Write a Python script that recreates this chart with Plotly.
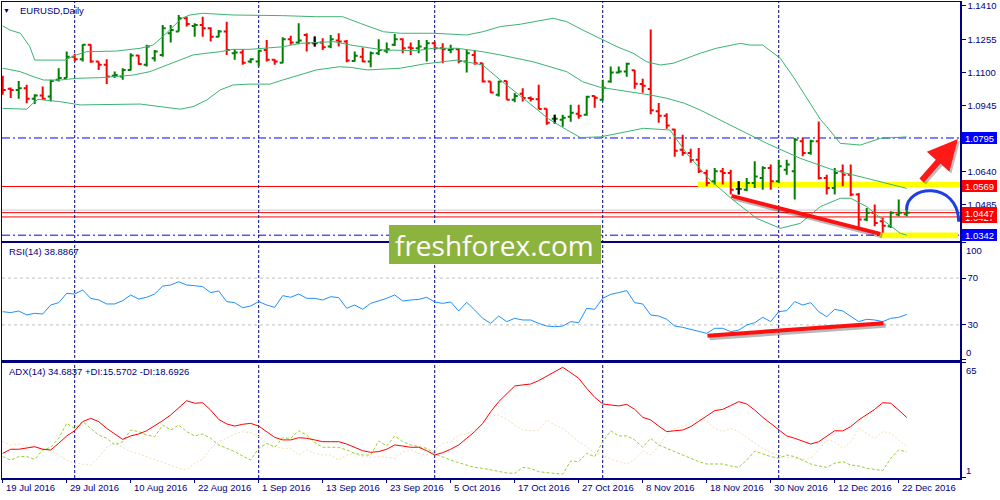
import plotly.graph_objects as go

# ---------------- data ----------------
date_labels = ["19 Jul 2016", "29 Jul 2016", "10 Aug 2016", "22 Aug 2016", "1 Sep 2016",
               "13 Sep 2016", "23 Sep 2016", "5 Oct 2016", "17 Oct 2016", "27 Oct 2016",
               "8 Nov 2016", "18 Nov 2016", "30 Nov 2016", "12 Dec 2016", "22 Dec 2016"]
date_label_bars = [0, 8, 16, 24, 32, 40, 48, 56, 64, 72, 80, 88, 96, 104, 112]
month_start_bars = [9, 32, 54, 75, 97]

opens = [1.1043,1.1024,1.1019,1.1027,1.0978,1.0993,1.0988,1.1066,1.1074,1.1174,
         1.1162,1.1229,1.1151,1.1136,1.1085,1.1081,1.1112,1.1179,1.1136,1.1167,
         1.1182,1.1283,1.1291,1.1353,1.1317,1.1322,1.1306,1.1267,1.1291,1.1190,
         1.1193,1.1151,1.1151,1.1205,1.1159,1.1146,1.1255,1.1240,1.1275,1.1236,
         1.1240,1.1221,1.1249,1.1244,1.1154,1.1174,1.1151,1.1190,1.1202,1.1229,
         1.1255,1.1216,1.1213,1.1213,1.1236,1.1213,1.1205,1.1209,1.1151,1.1182,
         1.1143,1.1058,1.0996,1.1061,1.0973,1.1001,1.0981,1.0976,1.0931,1.0885,
         1.0880,1.0894,1.0908,1.0903,1.0990,1.0973,1.1058,1.1100,1.1105,1.1110,
         1.1047,1.1023,1.0920,1.0898,1.0835,1.0740,1.0725,1.0694,1.0632,1.0593,
         1.0640,1.0632,1.0557,1.0554,1.0585,1.0609,1.0655,1.0593,1.0647,1.0640,
         1.0780,1.0725,1.0780,1.0609,1.0562,1.0640,1.0624,1.0531,1.0415,1.0446,
         1.0407,1.0384,1.0438,1.0440]
highs = [1.1085,1.1030,1.1061,1.1043,1.0999,1.1035,1.1066,1.1120,1.1198,1.1187,
         1.1232,1.1232,1.1151,1.1162,1.1105,1.1120,1.1190,1.1182,1.1229,1.1205,
         1.1322,1.1322,1.1368,1.1360,1.1329,1.1360,1.1311,1.1298,1.1337,1.1209,
         1.1209,1.1167,1.1205,1.1252,1.1162,1.1264,1.1271,1.1329,1.1283,1.1268,
         1.1260,1.1275,1.1283,1.1252,1.1198,1.1216,1.1198,1.1255,1.1240,1.1280,
         1.1260,1.1240,1.1252,1.1252,1.1244,1.1236,1.1229,1.1213,1.1205,1.1205,
         1.1143,1.1058,1.1062,1.1061,1.1004,1.1027,1.0988,1.1043,1.0931,1.0903,
         1.0903,1.0950,1.0950,1.0992,1.0992,1.1066,1.1128,1.1128,1.1145,1.1112,
         1.1071,1.1300,1.0958,1.0910,1.0838,1.0810,1.0745,1.0748,1.0647,1.0655,
         1.0655,1.0647,1.0593,1.0609,1.0686,1.0663,1.0671,1.0694,1.0694,1.0795,
         1.0795,1.0787,1.0872,1.0624,1.0655,1.0671,1.0671,1.0539,1.0469,1.0485,
         1.0423,1.0454,1.0508,1.0477]
lows = [1.0996,1.0981,1.0978,1.0957,1.0953,1.0973,1.0965,1.1058,1.1074,1.1151,
        1.1151,1.1146,1.1112,1.1046,1.1074,1.1066,1.1109,1.1136,1.1128,1.1151,
        1.1174,1.1240,1.1291,1.1314,1.1267,1.1267,1.1244,1.1264,1.1182,1.1159,
        1.1136,1.1143,1.1128,1.1151,1.1136,1.1143,1.1229,1.1232,1.1198,1.1221,
        1.1205,1.1213,1.1221,1.1148,1.1151,1.1148,1.1125,1.1182,1.1190,1.1224,
        1.1190,1.1182,1.1190,1.1151,1.1205,1.1143,1.1190,1.1143,1.1100,1.1136,
        1.1053,1.1004,1.0988,1.0973,1.0961,1.0965,1.0965,1.0930,1.0857,1.0862,
        1.0847,1.0871,1.0885,1.0899,1.0936,1.0969,1.1052,1.1095,1.1080,1.1024,
        1.1006,1.0906,1.0866,1.0838,1.0707,1.0712,1.0680,1.0632,1.0570,1.0578,
        1.0578,1.0531,1.0531,1.0547,1.0562,1.0554,1.0554,1.0585,1.0624,1.0508,
        1.0710,1.0717,1.0601,1.0531,1.0531,1.0570,1.0524,1.0368,1.0407,1.0384,
        1.0353,1.0376,1.0430,1.0430]
closes = [1.1019,1.1019,1.1027,1.0978,1.0993,1.0978,1.1061,1.1074,1.1174,1.1162,
          1.1229,1.1151,1.1136,1.1081,1.1089,1.1112,1.1179,1.1140,1.1221,1.1198,
          1.1306,1.1298,1.1353,1.1326,1.1322,1.1306,1.1267,1.1291,1.1205,1.1193,
          1.1146,1.1162,1.1202,1.1159,1.1151,1.1255,1.1240,1.1249,1.1236,1.1236,
          1.1218,1.1255,1.1244,1.1156,1.1178,1.1151,1.1190,1.1205,1.1209,1.1255,
          1.1213,1.1213,1.1221,1.1236,1.1213,1.1209,1.1209,1.1154,1.1190,1.1143,
          1.1058,1.1007,1.1058,1.0973,1.0991,1.0981,1.0977,1.0930,1.0866,1.0885,
          1.0889,1.0913,1.0899,1.0987,1.0983,1.1029,1.1100,1.1105,1.1141,1.1048,
          1.1038,1.0924,1.0898,1.0853,1.0736,1.0725,1.0692,1.0640,1.0585,1.0640,
          1.0632,1.0554,1.0557,1.0585,1.0616,1.0655,1.0593,1.0663,1.0671,1.0787,
          1.0725,1.0780,1.0609,1.0562,1.0632,1.0624,1.0531,1.0415,1.0446,1.0399,
          1.0386,1.0446,1.0446,1.0447]

bb_upper_x = [0, 0.9, 2.2, 3.4, 4.0, 7.8, 9.2, 10.5, 14.2, 17.2, 18.8, 20.0, 21.3, 22.4, 23.4,
              25.0, 28.8, 30.9, 35.0, 39.2, 42.5, 44.7, 47.6, 49.7, 53.8, 58.0, 60.0, 62.2,
              64.7, 68.8, 70.5, 72.5, 74.7, 76.8, 78.8, 80.5, 82.2, 83.8, 87.2, 89.2, 92.2,
              93.4, 95.0, 97.2, 98.8, 100.1, 101.3, 102.2, 103.0, 104.7, 107.2, 109.7, 113]
bb_upper = [1.1317, 1.1298, 1.1283, 1.1220, 1.1158, 1.1158, 1.1182, 1.1197, 1.1200, 1.1213,
            1.1228, 1.1267, 1.1314, 1.1353, 1.1368, 1.1376, 1.1368, 1.1368, 1.1365, 1.1360,
            1.1360, 1.1329, 1.1290, 1.1283, 1.1283, 1.1275, 1.1290, 1.1314, 1.1325, 1.1353,
            1.1337, 1.1298, 1.1260, 1.1220, 1.1190, 1.1150, 1.1135, 1.1143, 1.1190, 1.1213,
            1.1236, 1.1228, 1.1228, 1.1166, 1.1081, 1.1003, 1.0930, 1.0882, 1.0848, 1.0770,
            1.0762, 1.0793, 1.0800]
bb_mid_x = [0, 2.2, 3.8, 5.1, 7.2, 9.2, 12.2, 16.3, 18.4, 20.0, 22.2, 23.8, 25.5, 27.2, 28.8,
            30.9, 35.0, 37.2, 41.4, 43.5, 47.6, 51.8, 53.8, 56.8, 60.0, 62.2, 66.3, 70.5, 72.5,
            74.7, 76.8, 81.0, 83.0, 85.2, 87.2, 89.2, 91.3, 95.5, 99.7, 103.8, 108.0, 111.7, 113]
bb_mid = [1.1120, 1.1104, 1.1081, 1.1065, 1.1065, 1.1073, 1.1076, 1.1088, 1.1104, 1.1127,
          1.1158, 1.1182, 1.1190, 1.1197, 1.1208, 1.1208, 1.1220, 1.1236, 1.1244, 1.1228,
          1.1205, 1.1202, 1.1213, 1.1213, 1.1197, 1.1182, 1.1150, 1.1104, 1.1057, 1.1031,
          1.1019, 1.0995, 1.0980, 1.0957, 1.0925, 1.0887, 1.0848, 1.0770, 1.0700, 1.0646,
          1.0607, 1.0571, 1.0560]
bb_lower_x = [0, 3.0, 3.8, 4.4, 7.2, 9.7, 17.2, 19.7, 22.2, 23.8, 25.5, 27.2, 28.8, 30.9, 33.4,
              35.0, 37.2, 39.2, 42.1, 43.5, 45.6, 49.7, 52.7, 55.2, 56.8, 60.0, 62.2, 64.3, 66.3,
              68.2, 70.5, 72.2, 74.7, 80.1, 83.4, 85.5, 88.4, 91.3, 94.2, 97.2, 99.7, 102.2,
              104.7, 106.0, 108.0, 110.0, 112.2, 113]
bb_lower = [1.0933, 1.0929, 1.0957, 1.0975, 1.0964, 1.0949, 1.0953, 1.0941, 1.0929, 1.0941,
            1.0972, 1.1019, 1.1042, 1.1046, 1.1046, 1.1065, 1.1088, 1.1112, 1.1127, 1.1124,
            1.1112, 1.1120, 1.1140, 1.1150, 1.1158, 1.1135, 1.1065, 1.1003, 1.0941, 1.0885,
            1.0833, 1.0797, 1.0800, 1.0840, 1.0832, 1.0723, 1.0599, 1.0506, 1.0421, 1.0374,
            1.0397, 1.0475, 1.0514, 1.0514, 1.0475, 1.0413, 1.0351, 1.0342]

rsi = [41.3,40.5,41.9,38.5,39.9,39.3,47.0,49.0,57.0,56.4,
       59.8,52.7,51.3,47.9,47.9,50.7,55.6,52.1,53.6,56.4,
       63.2,64.1,66.9,64.1,63.5,62.7,57.6,59.0,49.9,49.0,
       44.7,46.2,49.9,47.0,45.0,55.0,53.6,56.4,52.7,52.7,
       51.3,54.1,53.3,44.2,47.0,43.3,48.4,50.4,52.7,55.6,
       50.4,51.3,51.8,53.6,49.6,48.4,49.6,41.9,49.3,42.7,
       35.6,31.3,37.6,32.8,35.6,34.2,34.2,31.3,29.0,28.5,
       29.0,32.8,31.9,44.2,43.3,52.7,56.1,57.6,59.3,49.0,
       47.9,38.5,37.6,34.8,29.0,27.9,26.2,24.2,22.8,27.1,
       27.1,24.2,25.6,29.9,31.9,36.5,32.8,41.3,42.2,49.9,
       47.0,49.0,41.3,37.0,43.3,41.9,37.6,32.8,34.8,34.2,
       32.8,35.6,36.5,38.9]
adx = [14.7,17.0,17.0,17.5,18.4,17.0,16.6,20.3,24.4,27.3,
       32.4,34.2,32.4,28.6,25.5,22.5,24.4,25.5,27.3,29.9,
       32.9,36.1,39.8,44.0,42.6,42.9,38.8,33.6,31.1,29.9,
       30.9,31.4,29.9,26.8,23.6,22.2,22.2,23.4,23.1,22.2,
       21.2,21.2,21.2,19.9,18.1,16.2,15.3,15.7,17.0,19.4,
       18.8,18.1,18.1,16.2,13.8,15.1,17.0,19.4,23.1,26.8,
       31.4,37.9,43.5,48.1,52.2,52.8,53.3,55.2,57.8,60.2,
       62.6,59.6,56.5,50.9,45.9,42.2,41.6,41.1,42.0,39.2,
       34.8,33.3,29.9,26.8,27.3,27.7,29.6,32.4,35.5,38.5,
       39.2,41.3,43.5,42.2,38.8,34.8,31.4,27.7,24.4,23.1,
       21.6,19.9,21.2,24.4,27.3,27.2,29.6,33.3,36.4,39.2,
       42.9,42.6,38.8,34.68]
plus_di = [12.9,11.0,12.9,12.9,11.4,16.6,18.1,23.1,31.4,28.6,
           32.4,28.6,24.9,23.1,19.4,21.2,27.7,26.8,24.9,24.0,
           30.5,27.7,30.5,26.8,24.4,25.5,23.1,19.4,17.5,15.7,
           13.2,11.0,17.5,20.3,18.1,23.4,23.1,27.3,24.9,20.7,
           18.1,18.1,18.1,16.6,14.7,13.8,13.8,21.6,18.8,24.4,
           21.2,19.4,18.4,17.5,14.4,12.5,11.0,9.5,8.2,6.9,
           6.4,5.5,4.5,3.8,3.6,6.9,6.4,4.5,4.0,3.6,
           3.1,10.5,10.1,14.7,12.9,21.2,27.2,24.4,24.4,22.2,
           18.1,23.1,19.4,17.5,15.7,13.8,12.0,10.1,8.8,8.8,
           8.8,7.7,6.9,11.0,16.0,14.4,12.9,12.0,13.8,12.9,
           11.0,8.8,7.7,6.9,9.2,10.1,8.2,7.7,6.4,5.8,
           5.1,12.0,16.6,15.57]
minus_di = [21.2,19.4,19.9,18.8,18.4,17.5,16.2,13.8,11.0,9.2,
            8.6,8.2,12.5,18.1,20.7,18.1,15.7,14.4,12.9,11.4,
            10.1,8.2,6.4,5.5,9.2,11.4,17.5,21.2,23.1,25.5,
            26.8,26.2,24.0,20.3,18.8,17.5,17.5,13.8,16.6,14.7,
            13.8,13.8,11.0,13.8,14.4,12.9,12.5,12.9,12.5,12.0,
            15.7,16.6,14.7,13.8,16.6,20.3,21.2,24.9,25.5,27.7,
            31.1,35.5,36.1,33.6,30.5,27.7,27.3,27.7,33.3,30.5,
            28.6,24.9,21.2,18.4,15.1,13.8,11.4,10.1,8.8,11.4,
            16.2,13.8,18.8,24.9,28.6,29.6,31.4,34.2,32.4,28.6,
            26.8,28.6,26.8,23.6,20.3,17.5,15.1,13.8,12.5,12.0,
            11.4,12.0,16.6,22.2,21.2,17.5,21.2,28.6,25.9,23.1,
            26.8,25.9,22.2,18.69]

price_ticks = [1.1410, 1.1255, 1.1100, 1.0945, 1.0790, 1.0640, 1.0485, 1.0330]
red_levels = [1.0569, 1.0447, 1.0427]
blue_levels = [1.0795, 1.0342]
bid_level = 1.0459
rsi_levels = [30, 70]

# drawn annotations (in bar index / price units)
trend_main = ([91.1, 109.7], [1.0525, 1.0348])
trend_rsi = ([88.1, 110.1], [20.8, 31.4])
yellow_zones = [(86.9, 119.66, 1.0565, 1.0591), (109.7, 119.4, 1.0328, 1.0354)]

# ---------------- figure ----------------
NAVY = "#000080"
FONT = "Liberation Sans"
bars = list(range(len(opens)))
doji = [i for i in bars if opens[i] == closes[i]]
XR = [-0.0875, 119.66]

fig = go.Figure()

fig.add_trace(go.Ohlc(x=bars, open=opens, high=highs, low=lows, close=closes,
                      increasing=dict(line=dict(color="#008000", width=2)),
                      decreasing=dict(line=dict(color="#FF0000", width=2)),
                      tickwidth=0.375, hoverinfo="skip", xaxis="x", yaxis="y"))
if len(doji) > 1:
    md = min(b - a for a, b in zip(doji[:-1], doji[1:]))
else:
    md = 1
fig.add_trace(go.Ohlc(x=doji, open=[opens[i] for i in doji], high=[highs[i] for i in doji],
                      low=[lows[i] for i in doji], close=[closes[i] for i in doji],
                      increasing=dict(line=dict(color="#000000", width=2)),
                      decreasing=dict(line=dict(color="#000000", width=2)),
                      tickwidth=min(0.5, 0.375 / md), hoverinfo="skip", xaxis="x", yaxis="y"))

for bx, by in [(bb_upper_x, bb_upper), (bb_mid_x, bb_mid), (bb_lower_x, bb_lower)]:
    fig.add_trace(go.Scatter(x=bx, y=by, mode="lines", line=dict(color="#3CB371", width=1),
                             hoverinfo="skip", xaxis="x", yaxis="y"))

# RSI pane
fig.add_trace(go.Scatter(x=bars, y=rsi, mode="lines", line=dict(color="#1E90FF", width=1),
                         hoverinfo="skip", xaxis="x2", yaxis="y2"))
# ADX pane
fig.add_trace(go.Scatter(x=bars, y=minus_di, mode="lines",
                         line=dict(color="#F5DEB3", width=1, dash="2px,2px"),
                         hoverinfo="skip", xaxis="x3", yaxis="y3"))
fig.add_trace(go.Scatter(x=bars, y=plus_di, mode="lines",
                         line=dict(color="#9ACD32", width=1, dash="3px,2px"),
                         hoverinfo="skip", xaxis="x3", yaxis="y3"))
fig.add_trace(go.Scatter(x=bars, y=adx, mode="lines", line=dict(color="#FF0000", width=1),
                         hoverinfo="skip", xaxis="x3", yaxis="y3"))

shapes = []
# yellow zones (below bars)
for x0, x1, y0, y1 in yellow_zones:
    shapes.append(dict(type="rect", xref="x", yref="y", x0=x0, x1=x1, y0=y0, y1=y1,
                       fillcolor="#FFFF00", line=dict(width=0), layer="below"))
# horizontal levels
shapes.append(dict(type="line", xref="paper", yref="y", x0=0, x1=1, y0=bid_level, y1=bid_level,
                   line=dict(color="#C8C8C8", width=1), layer="below"))
for lv in red_levels:
    shapes.append(dict(type="line", xref="paper", yref="y", x0=0, x1=1, y0=lv, y1=lv,
                       line=dict(color="#FF0000", width=1), layer="below"))
for lv in blue_levels:
    shapes.append(dict(type="line", xref="paper", yref="y", x0=0, x1=1, y0=lv, y1=lv,
                       line=dict(color="#0000FF", width=1, dash="8px,3px,2px,3px"), layer="below"))
for lv in rsi_levels:
    shapes.append(dict(type="line", xref="paper", yref="y2", x0=0, x1=1, y0=lv, y1=lv,
                       line=dict(color="#C0C0C0", width=1, dash="3px,3px"), layer="below"))
# month separators
for b in month_start_bars:
    shapes.append(dict(type="line", xref="x", yref="paper", x0=b, x1=b, y0=0, y1=1,
                       line=dict(color=NAVY, width=1, dash="3px,2px"), layer="below"))
# trend lines with shadows
for (tx, ty), yr, dy in [(trend_main, "y", -0.0009), (trend_rsi, "y2", -1.8)]:
    shapes.append(dict(type="line", xref="x", yref=yr, x0=tx[0] + 0.25, x1=tx[1] + 0.25,
                       y0=ty[0] + dy, y1=ty[1] + dy,
                       line=dict(color="rgba(0,0,0,0.28)", width=5), layer="above"))
    shapes.append(dict(type="line", xref="x", yref=yr, x0=tx[0], x1=tx[1], y0=ty[0], y1=ty[1],
                       line=dict(color="#FF1010", width=4), layer="above"))
# blue curved arrow
shapes.append(dict(type="path", xref="x", yref="y",
                   path="M 113.0,1.0459 C 112.8,1.0576 119.4,1.0599 119.5,1.0405",
                   line=dict(color="#1F3FE0", width=3), layer="above"))
# watermark box
shapes.append(dict(type="rect", xref="paper", yref="paper", x0=0.4040, x1=0.6253,
                   y0=0.4496, y1=0.5315, fillcolor="#8DB33F", line=dict(width=0), layer="above"))

ann = []
ann.append(dict(xref="paper", yref="paper", x=0.0052, y=0.9815, xanchor="center", yanchor="middle",
                text="▼", showarrow=False, font=dict(size=7, color=NAVY, family=FONT)))
ann.append(dict(xref="paper", yref="paper", x=0.0165, y=0.9815, xanchor="left", yanchor="middle",
                text="EURUSD,Daily", showarrow=False, font=dict(size=9.5, color=NAVY, family=FONT)))
ann.append(dict(xref="paper", yref="paper", x=0.0050, y=0.4754, xanchor="left", yanchor="middle",
                text="RSI(14) 38.8867", showarrow=False, font=dict(size=9.5, color=NAVY, family=FONT)))
ann.append(dict(xref="paper", yref="paper", x=0.0050, y=0.2233, xanchor="left", yanchor="middle",
                text="ADX(14) 34.6837 +DI:15.5702 -DI:18.6926", showarrow=False,
                font=dict(size=9.5, color=NAVY, family=FONT)))
for b, lab in zip(date_label_bars, date_labels):
    ann.append(dict(xref="x3", yref="paper", x=b, y=0, xanchor="left", yanchor="top", xshift=1,
                    yshift=-2, text=lab, showarrow=False, font=dict(size=9.5, color=NAVY, family=FONT)))
for yr, val, anc in [("y2", 100, "top"), ("y2", 0, "bottom"), ("y3", 65, "top"), ("y3", 1, "bottom")]:
    ann.append(dict(xref="paper", yref=yr, x=1, y=val, xanchor="left", yanchor=anc, xshift=4,
                    text=str(val), showarrow=False, font=dict(size=9.5, color=NAVY, family=FONT)))
# price boxes
for lv, col in [(1.0427, "#FF0000"), (1.0447, "#FF0000"), (1.0569, "#FF0000"),
                (1.0795, "#0000FF"), (1.0342, "#0000FF")]:
    ann.append(dict(xref="paper", yref="y", x=1, y=lv, xanchor="left", yanchor="middle", xshift=2,
                    text=f"{lv:.4f}", showarrow=False, bgcolor=col, bordercolor=col, borderwidth=1,
                    borderpad=0, width=33, height=10,
                    font=dict(size=9.5, color="white", family=FONT)))
# watermark text
ann.append(dict(xref="paper", yref="paper", x=0.5146, y=0.4905, xanchor="center", yanchor="middle",
                text="freshforex.com", showarrow=False,
                font=dict(size=28, color="white", family="Open Sans")))
# red arrow (shadow + arrow)
for col, xs, ys in [("rgba(0,0,0,0.25)", 2, -2), ("#FF1A1A", 0, 0)]:
    ann.append(dict(xref="x", yref="y", axref="x", ayref="y", x=119.4, y=1.0790, ax=114.7, ay=1.0590,
                    text="", showarrow=True, arrowhead=2, arrowsize=1.0, arrowwidth=6,
                    arrowcolor=col, xshift=xs, yshift=ys))
# blue arrow head
ann.append(dict(xref="x", yref="y", axref="x", ayref="y", x=119.55, y=1.0392, ax=119.5, ay=1.0420,
                text="", showarrow=True, arrowhead=2, arrowsize=1.2, arrowwidth=3,
                arrowcolor="#1F3FE0"))

axis_common = dict(showgrid=False, zeroline=False, showline=True, mirror=True,
                   linecolor=NAVY, linewidth=1.5)
yaxis_common = dict(axis_common, side="right", ticks="outside", ticklen=4, tickcolor=NAVY,
                    tickfont=dict(size=9.5, color=NAVY, family=FONT), automargin=False)

fig.update_layout(
    width=1000, height=500, template="none",
    margin=dict(l=2, r=40, t=2, b=22),
    paper_bgcolor="white", plot_bgcolor="white", showlegend=False, hovermode=False,
    font=dict(family=FONT, size=9.5, color=NAVY),
    xaxis=dict(axis_common, domain=[0, 1], range=XR, anchor="y", showticklabels=False,
               ticks="", rangeslider=dict(visible=False), automargin=False),
    xaxis2=dict(axis_common, domain=[0, 1], range=XR, anchor="y2", showticklabels=False,
                ticks="", matches="x", automargin=False),
    xaxis3=dict(axis_common, domain=[0, 1], range=XR, anchor="y3", showticklabels=False,
                ticks="outside", ticklen=3, tickcolor=NAVY, tickvals=date_label_bars,
                matches="x", automargin=False),
    yaxis=dict(yaxis_common, domain=[0.4979, 1], range=[1.03149, 1.14286], anchor="x",
               tickvals=price_ticks, ticktext=[f"{v:.4f}" for v in price_ticks]),
    yaxis2=dict(yaxis_common, domain=[0.2479, 0.4937], range=[0, 100], anchor="x2",
                tickvals=[0, 30, 70, 100], ticktext=["", "30", "70", ""]),
    yaxis3=dict(yaxis_common, domain=[0, 0.2416], range=[1, 65], anchor="x3",
                tickvals=[1, 65], ticktext=["", ""]),
    shapes=shapes, annotations=ann,
)

fig.write_html("out.html", config={"displayModeBar": False, "staticPlot": True},
               post_script="document.body.style.margin='0px';"
               "document.body.style.overflow='hidden';")
